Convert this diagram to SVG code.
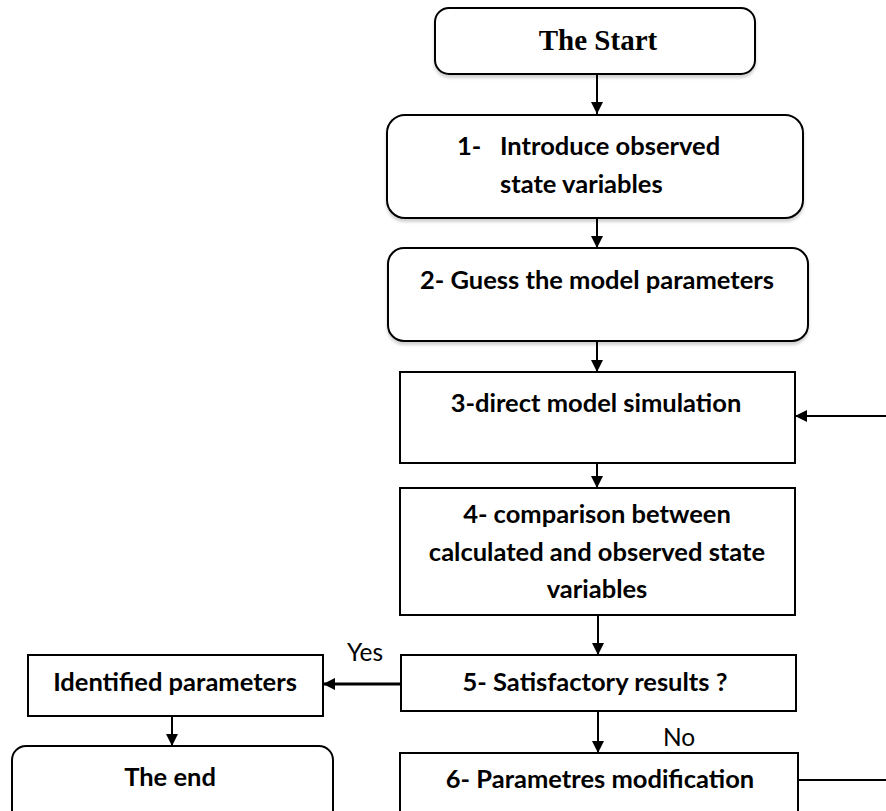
<svg xmlns="http://www.w3.org/2000/svg" width="886" height="811" viewBox="0 0 886 811">
<style>
.box{fill:#fff;stroke:#000;stroke-width:2}
.t{font-family:Lato,"Open Sans",sans-serif;font-weight:bold;font-size:25.5px;fill:#000;text-anchor:middle}
.lbl{font-family:Lato,"Open Sans",sans-serif;font-size:24.5px;fill:#000}
.ln{stroke:#000;stroke-width:2;fill:none}
</style>
<defs>
<marker id="ah" viewBox="0 0 10 10" refX="10" refY="5" markerWidth="13" markerHeight="12" orient="auto" markerUnits="userSpaceOnUse">
<path d="M0,0 L10,5 L0,10 z" fill="#000"/>
</marker>
<filter id="sh" x="-5%" y="-5%" width="110%" height="120%">
<feDropShadow dx="0" dy="3" stdDeviation="1.5" flood-color="#000" flood-opacity="0.18"/>
</filter>
</defs>
<rect width="886" height="811" fill="#fff"/>
<g id="connectors">
<line class="ln" x1="597" y1="74" x2="597" y2="114" marker-end="url(#ah)"/>
<line class="ln" x1="597" y1="218" x2="597" y2="248" marker-end="url(#ah)"/>
<line class="ln" x1="597" y1="341" x2="597" y2="372" marker-end="url(#ah)"/>
<line class="ln" x1="597" y1="463" x2="597" y2="488" marker-end="url(#ah)"/>
<line class="ln" x1="598" y1="615" x2="598" y2="655" marker-end="url(#ah)"/>
<line class="ln" x1="598" y1="711" x2="598" y2="753" marker-end="url(#ah)"/>
<line class="ln" x1="886" y1="416" x2="795" y2="416" marker-end="url(#ah)"/>
<line class="ln" x1="798" y1="780" x2="886" y2="780"/>
<line class="ln" style="stroke-width:3" x1="401" y1="684" x2="323" y2="684" marker-end="url(#ah)"/>
<line class="ln" x1="172" y1="716" x2="172" y2="746" marker-end="url(#ah)"/>
<text class="lbl" x="347" y="661">Yes</text>
<text class="lbl" x="663" y="746">No</text>
</g>
<g id="start">
<rect class="box" filter="url(#sh)" x="435" y="8" width="320" height="66" rx="14"/>
<text x="598" y="50" style="font-family:'Liberation Serif',serif;font-weight:bold;font-size:29px;text-anchor:middle">The Start</text>
</g>
<g id="step1">
<rect class="box" filter="url(#sh)" x="387" y="115" width="416" height="103" rx="18"/>
<text class="t" x="457" y="155" style="text-anchor:start">1-</text>
<text class="t" x="500" y="155" style="text-anchor:start">Introduce observed</text>
<text class="t" x="500" y="193" style="text-anchor:start">state variables</text>
</g>
<g id="step2">
<rect class="box" filter="url(#sh)" x="388" y="248" width="420" height="93" rx="16"/>
<text class="t" x="597" y="289">2- Guess the model parameters</text>
</g>
<g id="step3">
<rect class="box" x="400" y="372" width="395" height="91"/>
<text class="t" x="596" y="412">3-direct model simulation</text>
</g>
<g id="step4">
<rect class="box" x="400" y="488" width="395" height="127"/>
<text class="t" x="597" y="523">4- comparison between</text>
<text class="t" x="597" y="561">calculated and observed state</text>
<text class="t" x="597" y="598">variables</text>
</g>
<g id="step5">
<rect class="box" x="401" y="655" width="395" height="56"/>
<text class="t" x="595" y="691">5- Satisfactory results ?</text>
</g>
<g id="step6">
<rect class="box" x="400" y="753" width="398" height="60"/>
<text class="t" x="600" y="788">6- Parametres modification</text>
</g>
<g id="identified">
<rect class="box" x="28" y="655" width="295" height="61"/>
<text class="t" x="175" y="691">Identified parameters</text>
</g>
<g id="end">
<rect class="box" x="12" y="746" width="321" height="80" rx="14"/>
<text class="t" x="170" y="786">The end</text>
</g>
</svg>
